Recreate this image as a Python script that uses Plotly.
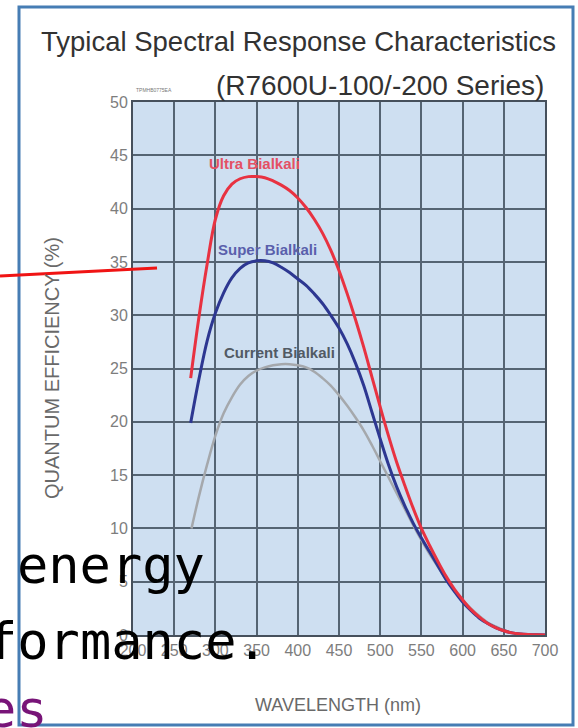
import plotly.graph_objects as go

# ---------------- data ----------------
wavelength_ultra = [270, 280, 290, 300, 310, 320, 330, 340, 350, 360, 370, 380, 390, 400, 410, 420, 430, 440,
                    450, 460, 470, 480, 490, 500, 510, 520, 530, 540, 550, 560, 570, 580, 590, 600, 610,
                    620, 630, 640, 650, 660, 670, 680, 690, 700]
qe_ultra = [24.1, 29.8, 34.8, 39.0, 41.2, 42.3, 42.8, 43.0, 43.0, 42.9, 42.6, 42.2, 41.7, 41.0, 40.1, 39.0, 37.7, 36.1,
            34.2, 32.0, 29.6, 27.0, 24.2, 21.4, 18.7, 16.2, 14.0, 11.9, 10.0, 8.4, 6.9, 5.5, 4.3, 3.3, 2.4,
            1.7, 1.1, 0.7, 0.4, 0.2, 0.1, 0.05, 0.02, 0.0]

wavelength_super = [270, 280, 290, 300, 310, 320, 330, 340, 350, 360, 370, 380, 390, 400, 410, 420, 430, 440,
                    450, 460, 470, 480, 490, 500, 510, 520, 530, 540, 550, 560, 570, 580, 590, 600, 610,
                    620, 630, 640, 650, 660, 670, 680, 690, 700]
qe_super = [19.9, 24.0, 27.6, 30.2, 32.1, 33.5, 34.4, 34.9, 35.1, 35.1, 34.9, 34.5, 34.0, 33.4, 32.8, 32.0, 31.1, 30.0,
            28.8, 27.3, 25.5, 23.4, 20.9, 18.4, 16.0, 13.9, 12.1, 10.5, 9.1, 7.8, 6.5, 5.2, 4.1, 3.1, 2.3,
            1.6, 1.1, 0.7, 0.4, 0.2, 0.1, 0.05, 0.02, 0.0]

wavelength_current = [271, 280, 290, 300, 310, 320, 330, 340, 350, 360, 370, 380, 390, 400, 410, 420, 430, 440,
                      450, 460, 470, 480, 490, 500, 510, 520, 530, 540, 550, 560, 570, 580, 590, 600, 610,
                      620, 630, 640, 650, 660, 670, 680, 690, 700]
qe_current = [10.0, 13.0, 16.0, 18.7, 20.8, 22.3, 23.5, 24.3, 24.8, 25.1, 25.3, 25.4, 25.4, 25.3, 25.1, 24.7, 24.1, 23.4,
              22.5, 21.5, 20.4, 19.2, 17.8, 16.3, 14.8, 13.3, 11.8, 10.3, 8.9, 7.6, 6.4, 5.2, 4.2, 3.3, 2.5,
              1.8, 1.2, 0.8, 0.45, 0.2, 0.1, 0.05, 0.02, 0.0]

x_ticks = [200, 250, 300, 350, 400, 450, 500, 550, 600, 650, 700]
y_ticks = [0, 5, 10, 15, 20, 25, 30, 35, 40, 45, 50]

series_names = ["Ultra Bialkali", "Super Bialkali", "Current Bialkali"]
title_text = "Typical Spectral Response Characteristics"
subtitle_text = "(R7600U-100/-200 Series)"
x_title = "WAVELENGTH (nm)"
y_title = "QUANTUM EFFICIENCY (%)"
code_text = "TPMHB0775EA"
slide_lines = ["energy", "formance.", "es"]

# ---------------- layout geometry (pixels) ----------------
FW, FH = 578, 728
L, R, T, B = 133, 33, 102, 93
W = FW - L - R
H = FH - T - B


def px(x):
    return (x - L) / W


def py(y):
    return (T + H - y) / H


SANS = "Liberation Sans, Arial, sans-serif"
MONO = "DejaVu Sans Mono, Liberation Mono, monospace"

fig = go.Figure()

fig.add_trace(go.Scatter(x=wavelength_current, y=qe_current, mode="lines",
                         line=dict(color="rgb(165,168,172)", width=2.5, shape="spline", smoothing=1.0),
                         name=series_names[2], hoverinfo="skip"))
fig.add_trace(go.Scatter(x=wavelength_super, y=qe_super, mode="lines",
                         line=dict(color="rgb(45,55,145)", width=3, shape="spline", smoothing=1.0),
                         name=series_names[1], hoverinfo="skip"))
fig.add_trace(go.Scatter(x=wavelength_ultra, y=qe_ultra, mode="lines",
                         line=dict(color="rgb(232,50,65)", width=3, shape="spline", smoothing=1.0),
                         name=series_names[0], hoverinfo="skip"))

grid_col = "rgb(85,100,115)"
fig.update_layout(
    template="none",
    width=FW, height=FH,
    margin=dict(l=L, r=R, t=T, b=B, pad=0),
    paper_bgcolor="white",
    plot_bgcolor="rgb(206,223,241)",
    showlegend=False,
    xaxis=dict(range=[200, 700], tickvals=x_ticks, ticktext=[str(v) for v in x_ticks],
               showgrid=True, gridcolor=grid_col, gridwidth=1.5, zeroline=False,
               showline=True, mirror=True, linecolor="rgb(70,80,92)", linewidth=2,
               ticks="", ticklabelstandoff=0, automargin=False,
               tickfont=dict(family=SANS, size=16, color="rgb(125,125,125)")),
    yaxis=dict(range=[0, 50], tickvals=y_ticks, ticktext=[str(v) for v in y_ticks],
               showgrid=True, gridcolor=grid_col, gridwidth=1.5, zeroline=False,
               showline=True, mirror=True, linecolor="rgb(70,80,92)", linewidth=2,
               ticks="", ticklabelstandoff=0, automargin=False,
               tickfont=dict(family=SANS, size=16, color="rgb(125,125,125)")),
)

# slide frame and red pointer line
fig.add_shape(type="rect", xref="paper", yref="paper",
              x0=px(19), x1=px(573), y0=py(725), y1=py(7),
              line=dict(color="rgb(70,125,180)", width=3), layer="below")
fig.add_shape(type="line", xref="paper", yref="paper",
              x0=px(0), y0=py(276), x1=px(157), y1=py(268),
              line=dict(color="rgb(240,20,20)", width=3), layer="above")

ann = []
ann.append(dict(text=title_text, x=px(298), y=py(41), xanchor="center", yanchor="middle",
                font=dict(family=SANS, size=27.5, color="rgb(50,50,50)")))
ann.append(dict(text=subtitle_text, x=px(380), y=py(85), xanchor="center", yanchor="middle",
                font=dict(family=SANS, size=28, color="rgb(50,50,50)")))
ann.append(dict(text=code_text, x=px(134), y=py(90), xanchor="left", yanchor="middle",
                font=dict(family=SANS, size=5, color="rgb(120,120,120)")))
ann.append(dict(text=y_title, x=px(52), y=py(368), xanchor="center", yanchor="middle", textangle=-90,
                font=dict(family=SANS, size=20, color="rgb(105,105,105)")))
ann.append(dict(text=x_title, x=px(338), y=py(705), xanchor="center", yanchor="middle",
                font=dict(family=SANS, size=18, color="rgb(105,105,105)")))
# curve labels (data coordinates)
ann.append(dict(text="<b>" + series_names[0] + "</b>", x=348, y=44.2, xref="x", yref="y",
                xanchor="center", yanchor="middle",
                font=dict(family=SANS, size=15, color="rgb(228,80,100)")))
ann.append(dict(text="<b>" + series_names[1] + "</b>", x=363, y=36.2, xref="x", yref="y",
                xanchor="center", yanchor="middle",
                font=dict(family=SANS, size=15, color="rgb(90,95,172)")))
ann.append(dict(text="<b>" + series_names[2] + "</b>", x=378, y=26.5, xref="x", yref="y",
                xanchor="center", yanchor="middle",
                font=dict(family=SANS, size=15, color="rgb(82,90,100)")))
# overlapping slide text
ann.append(dict(text=slide_lines[0], x=px(15), y=py(565), xanchor="left", yanchor="middle",
                font=dict(family=MONO, size=52, color="black")))
ann.append(dict(text=slide_lines[1], x=px(-16), y=py(641), xanchor="left", yanchor="middle",
                font=dict(family=MONO, size=52, color="black")))
ann.append(dict(text=slide_lines[2], x=px(-17), y=py(709), xanchor="left", yanchor="middle",
                font=dict(family=MONO, size=52, color="rgb(120,20,120)")))

for a in ann:
    a.setdefault("xref", "paper")
    a.setdefault("yref", "paper")
    a["showarrow"] = False
    fig.add_annotation(**a)

fig.write_html("out.html")
